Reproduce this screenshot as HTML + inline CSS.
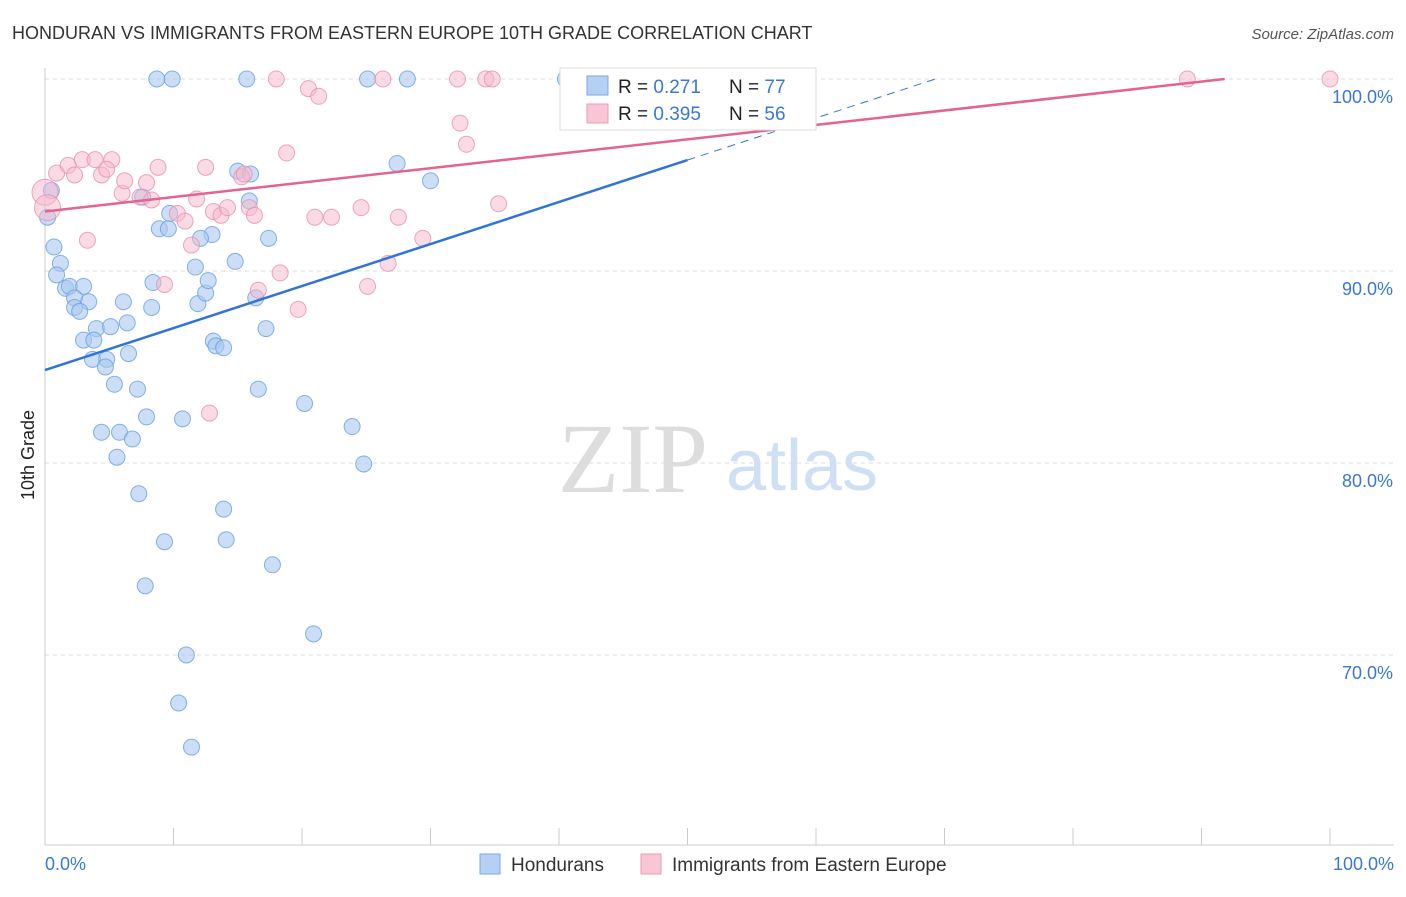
<!DOCTYPE html>
<html><head><meta charset="utf-8"><style>
body{margin:0;background:#fff;font-family:"Liberation Sans",sans-serif;}
svg text{font-family:"Liberation Sans",sans-serif;}
svg text.serif{font-family:"Liberation Serif",serif;}
</style></head><body>
<svg id="c" width="1406" height="892" xmlns="http://www.w3.org/2000/svg">
<text x="12" y="39" font-size="18" fill="#333">HONDURAN VS IMMIGRANTS FROM EASTERN EUROPE 10TH GRADE CORRELATION CHART</text>
<text x="1394" y="39" font-size="15" fill="#555" text-anchor="end" font-style="italic">Source: ZipAtlas.com</text>
<text x="34" y="455" font-size="18" fill="#222" text-anchor="middle" transform="rotate(-90 34 455)">10th Grade</text>
<g><text class="serif" x="633" y="492" font-size="100" fill="#ddd" text-anchor="middle">ZIP</text><text x="802" y="490" font-size="72" fill="#cfe0f5" text-anchor="middle">atlas</text></g>
<g id="grid"></g><g id="axes"></g><g id="pts"></g><g id="lines"></g>
<g>
<rect x="560" y="68" width="256" height="62" fill="#fff" stroke="#ddd"/>
<rect x="587" y="76" width="21" height="19" fill="#b5d0f3" stroke="#7aaae6"/>
<rect x="587" y="104" width="21" height="19" fill="#f9c6d6" stroke="#ec9ab5"/>
<text x="618" y="93" font-size="19" fill="#222">R = <tspan fill="#3a78d4">0.271</tspan></text>
<text x="729" y="93" font-size="19" fill="#222">N = <tspan fill="#3a78d4">77</tspan></text>
<text x="618" y="120" font-size="19" fill="#222">R = <tspan fill="#3a78d4">0.395</tspan></text>
<text x="729" y="120" font-size="19" fill="#222">N = <tspan fill="#3a78d4">56</tspan></text>
</g>
<g>
<rect x="480" y="854" width="20" height="20" fill="#b5d0f3" stroke="#7aaae6"/>
<text x="511" y="871" font-size="19" fill="#333">Hondurans</text>
<rect x="641" y="854" width="20" height="20" fill="#f9c6d6" stroke="#ec9ab5"/>
<text x="672" y="871" font-size="19" fill="#333">Immigrants from Eastern Europe</text>
</g>
</svg>
<script>
const blueX=[8.7,9.9,15.7,25.1,28.2,40.5,41.5,0.5,0.2,0.7,1.2,0.9,1.6,1.9,3.0,2.3,3.4,2.3,2.7,4.0,5.1,6.4,6.1,3.0,3.8,3.7,4.8,4.7,6.5,5.4,7.2,4.4,5.8,6.8,5.6,7.9,10.7,7.3,9.3,7.8,11.0,10.4,11.4,13.9,14.1,17.7,20.9,23.9,24.8,20.2,16.6,17.2,13.1,13.3,13.9,11.9,12.5,12.7,11.7,8.4,8.3,16.4,14.8,17.4,13.0,12.1,8.9,9.6,9.7,7.6,15.0,16.0,15.9,27.4,30.0];
const blueY=[100,100,100,100,100,100,100,94.2,92.8,91.25,90.4,89.8,89.1,89.2,89.2,88.6,88.4,88.1,87.9,87.0,87.1,87.3,88.4,86.4,86.4,85.4,85.4,85.0,85.7,84.1,83.85,81.6,81.6,81.25,80.3,82.4,82.3,78.4,75.9,73.6,70.0,67.5,65.2,77.6,76.0,74.7,71.1,81.9,79.95,83.1,83.85,87.0,86.35,86.1,86.0,88.3,88.85,89.5,90.2,89.4,88.1,88.6,90.5,91.7,91.9,91.7,92.2,92.2,93.0,93.85,95.2,95.05,93.65,95.6,94.7];
const pinkX=[0,0.2,0.9,1.8,2.3,2.9,3.9,4.4,5.2,4.8,3.3,6.0,6.2,7.4,7.9,8.8,8.3,9.3,10.3,10.9,11.4,11.8,12.5,12.8,13.1,13.7,14.2,15.3,15.5,15.9,16.3,16.6,18.3,18.8,19.7,20.5,21.3,18.0,21.0,22.3,24.6,25.1,26.3,26.7,27.5,29.4,32.1,32.3,32.8,34.3,34.8,35.3,88.9,100];
const pinkY=[94.1,93.3,95.1,95.5,95.0,95.8,95.8,95.0,95.8,95.3,91.6,94.05,94.7,93.85,94.6,95.4,93.7,89.3,93.0,92.6,91.35,93.75,95.4,82.6,93.1,92.9,93.3,94.9,95.05,93.3,92.9,89.0,89.9,96.15,88.0,99.5,99.1,100,92.8,92.8,93.3,89.2,100,90.4,92.8,91.7,100,97.7,96.6,100,100,93.5,100,100];
const yTicks=[100,90,80,70];
const blueLine=[84.84,95.78];
const pinkLine=[93.1,100,91.8];
const NS="http://www.w3.org/2000/svg";
const sx=v=>45+v*12.85, sy=v=>79+(100-v)*19.2;
function mk(t,a,p){const e=document.createElementNS(NS,t);for(const k in a)e.setAttribute(k,a[k]);p.appendChild(e);return e;}
const g=document.getElementById('grid'),ax=document.getElementById('axes'),pts=document.getElementById('pts'),ln=document.getElementById('lines');
yTicks.forEach(t=>{const l=mk('line',{x1:45,x2:1394,y1:sy(t),y2:sy(t),stroke:'#ddd','stroke-dasharray':'4,4'},g);


const tx=mk('text',{x:1393,y:sy(t)+24,'font-size':18,fill:'#3a78d4','text-anchor':'end'},ax);tx.textContent=t.toFixed(1)+'%';

});
mk('line',{x1:45,x2:45,y1:68,y2:845,stroke:'#ccc'},ax);
mk('line',{x1:45,x2:1394,y1:845,y2:845,stroke:'#ccc'},ax);
for(let i=0;i<=10;i++){mk('line',{x1:sx(i*10),x2:sx(i*10),y1:828,y2:845,stroke:'#ccc'},ax);}
let t0=mk('text',{x:45,y:870,'font-size':18,fill:'#3a78d4'},ax);t0.textContent='0.0%';


let t1=mk('text',{x:1394,y:870,'font-size':18,fill:'#3a78d4','text-anchor':'end'},ax);t1.textContent='100.0%';


blueX.forEach((x,i)=>{const c=mk('circle',{cx:sx(x),cy:sy(blueY[i]),r:8,fill:'#a9c8f0','fill-opacity':0.6,stroke:'#6a9fe0','stroke-opacity':0.8},pts);

});
pinkX.forEach((x,i)=>{const c=mk('circle',{cx:sx(x),cy:sy(pinkY[i]),r:i<2?13:8,fill:'#f5b8cc','fill-opacity':0.5,stroke:'#e890ad','stroke-opacity':0.8},pts);

});
const bs=(blueLine[1]-blueLine[0])/50;
const b1=mk('line',{x1:sx(0),y1:sy(blueLine[0]),x2:sx(50),y2:sy(blueLine[1]),stroke:'#2f74d8','stroke-width':2.5},ln);


const xe=(100-blueLine[0])/bs;
const b2=mk('line',{x1:sx(50),y1:sy(blueLine[1]),x2:sx(xe),y2:sy(100),stroke:'#2f74d8','stroke-width':1,'stroke-dasharray':'8,6'},ln);


const p1=mk('line',{x1:sx(0),y1:sy(pinkLine[0]),x2:sx(pinkLine[2]),y2:sy(pinkLine[1]),stroke:'#e2648f','stroke-width':2.5},ln);


</script>
</body></html>
